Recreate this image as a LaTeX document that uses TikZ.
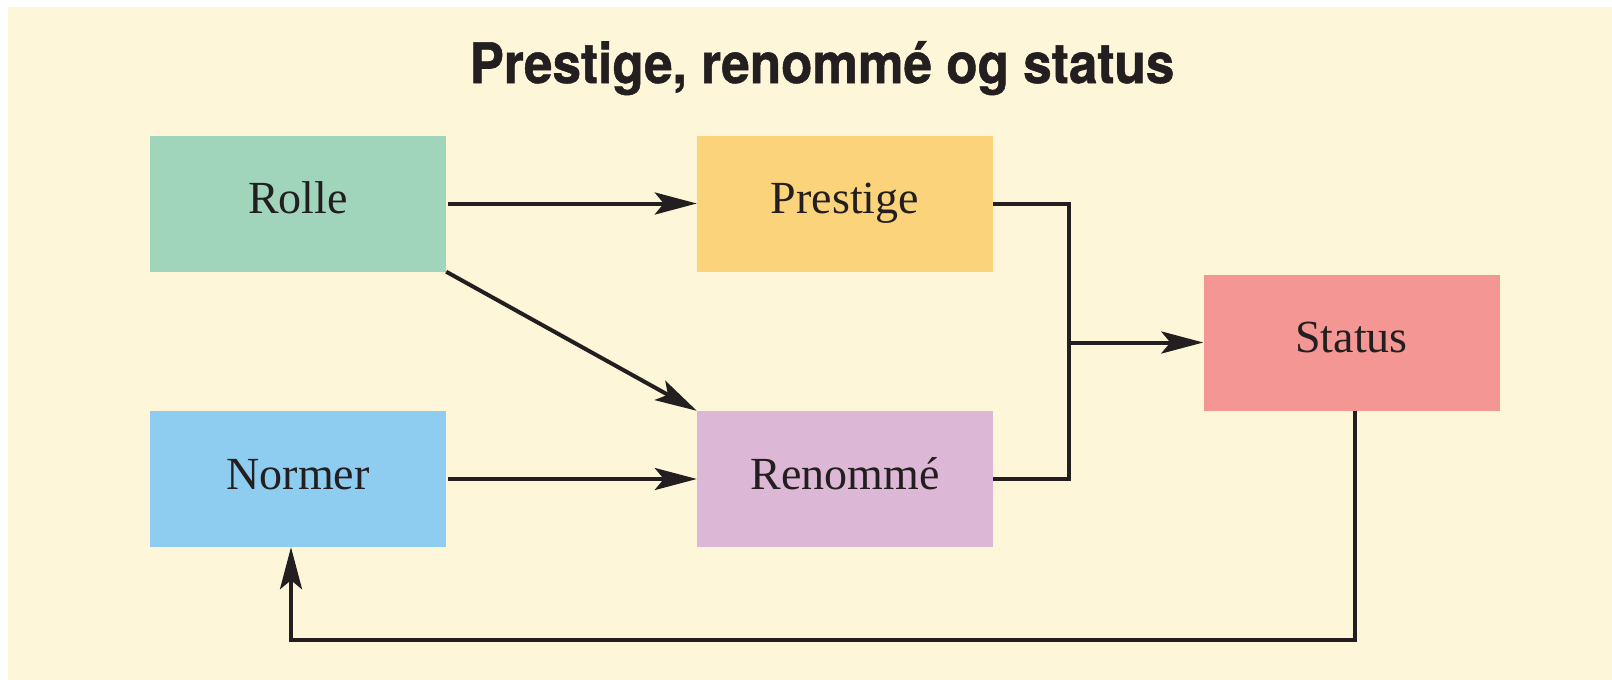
\documentclass[tikz,border=0pt]{standalone}
\usepackage{fontspec}
\setmainfont{Liberation Serif}
\newfontfamily\headfont[BoldFeatures={FakeBold=1}]{TeX Gyre Heros}
\usetikzlibrary{arrows.meta}
\definecolor{paper}{RGB}{253,246,216}
\definecolor{ink}{RGB}{35,31,32}
\definecolor{cgreen}{RGB}{160,213,188}
\definecolor{cyellow}{RGB}{250,211,122}
\definecolor{cred}{RGB}{244,150,148}
\definecolor{cblue}{RGB}{143,205,240}
\definecolor{cpurple}{RGB}{220,184,214}
\begin{document}
\begin{tikzpicture}[x=1pt,y=-1pt,
  box/.style={fill=#1, draw=none, minimum width=296pt, minimum height=136pt,
    inner sep=0pt, text=ink, font=\fontsize{46}{50}\selectfont,
    text height=30.5pt, text depth=10.5pt},
  wire/.style={draw=ink, line width=4pt, line join=miter},
  arr/.style={wire, -{Stealth[length=42pt,width=22pt,inset=9pt]}}]
\useasboundingbox (0,0) rectangle (1612,680);
\fill[paper] (8,7) rectangle (1612,680);

% heading
\node[text=ink, anchor=base, inner sep=0pt] (title) at (822,83)
  {\scalebox{0.92}[1]{\headfont\bfseries\fontsize{55.7}{60}\selectfont Prestige, renommé og status}};

% boxes
\node[box=cgreen]  (rolle)    at (298,203.5) {Rolle};
\node[box=cyellow] (prestige) at (845,203.5) {Prestige};
\node[box=cblue]   (normer)   at (298,479)   {Normer};
\node[box=cpurple] (renomme)  at (845,479)   {Renommé};
\node[box=cred]    (status)   at (1351.5,342.5) {Status};

% connectors
\draw[arr] ([xshift=2pt]rolle.east) -- (prestige.west);
\draw[arr] (rolle.south east) -- (renomme.north west);
\draw[arr] ([xshift=2pt]normer.east) -- (renomme.west);

\coordinate (join) at (1069,342.5);
\draw[wire] (prestige.east) -- (prestige.east -| join) -- (renomme.east -| join) -- (renomme.east);
\draw[arr] (join) -- (status.west);

\coordinate (loop) at (291,640);
\draw[arr] ([xshift=3.5pt]status.south) |- (loop) -- ([xshift=-7pt]normer.south);
\end{tikzpicture}
\end{document}
